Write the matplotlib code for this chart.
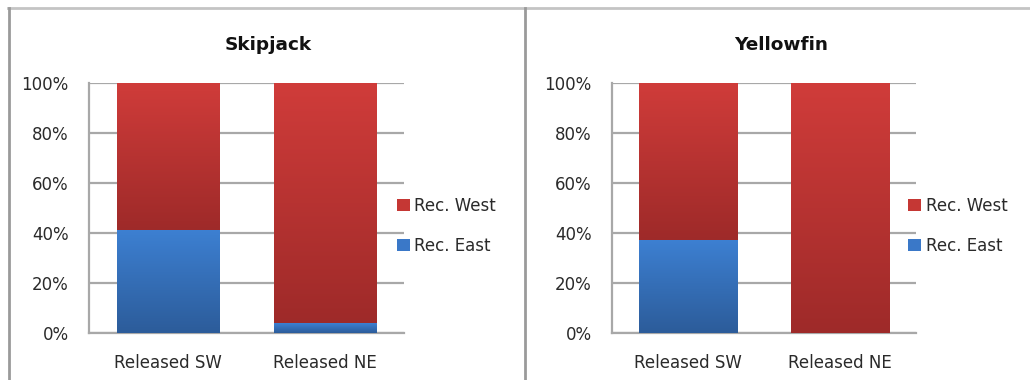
import matplotlib
matplotlib.use("Agg")
import matplotlib.pyplot as plt
import numpy as np
from matplotlib.patches import Patch
from matplotlib.lines import Line2D
from matplotlib.colors import LinearSegmentedColormap

plt.rcParams['font.family'] = ['DejaVu Sans']

categories = ["Released SW", "Released NE"]
species = ["Skipjack", "Yellowfin"]
rec_east = {"Skipjack": [41.2, 3.9], "Yellowfin": [37.2, 0.0]}
rec_west = {"Skipjack": [58.8, 96.1], "Yellowfin": [62.8, 100.0]}
yticks = [0, 20, 40, 60, 80, 100]

W, H = 1030, 380
fig = plt.figure(figsize=(W / 100, H / 100), dpi=100)

red_cmap = LinearSegmentedColormap.from_list("red", ["#9e2a29", "#d03c3a"])
blue_cmap = LinearSegmentedColormap.from_list("blue", ["#2c5c9a", "#3d80d2"])
grad = np.linspace(0, 1, 256).reshape(-1, 1)


def gradient_fill(ax, bars, cmap):
    for p in bars:
        h = p.get_height()
        if h <= 0:
            continue
        x0, y0, w = p.get_x(), p.get_y(), p.get_width()
        im = ax.imshow(grad, cmap=cmap, origin="lower", aspect="auto",
                       extent=[x0, x0 + w, y0, y0 + h], zorder=3,
                       interpolation="bilinear")
        im.set_clip_path(p)
        p.set_facecolor("none")
        p.set_edgecolor("none")


# axes rectangles in pixels: (left, right)
ax_px = [(89, 404), (612, 916)]
legend_x = [397, 908]
title_x = [268, 781]

for i, sp in enumerate(species):
    l, r = ax_px[i]
    ax = fig.add_axes([l / W, (H - 333) / H, (r - l) / W, 250 / H])
    x = np.arange(len(categories))
    east = rec_east[sp]
    west = rec_west[sp]
    b1 = ax.bar(x, east, width=0.65, zorder=3)
    b2 = ax.bar(x, west, bottom=east, width=0.65, zorder=3)
    gradient_fill(ax, b1, blue_cmap)
    gradient_fill(ax, b2, red_cmap)
    ax.set_xlim(-0.5, 1.5)
    ax.set_ylim(0, 100)
    ax.set_yticks(yticks)
    ax.set_yticklabels([f"{t}%" for t in yticks])
    ax.set_xticks(x)
    ax.set_xticklabels(categories)
    ax.grid(axis="y", color="#a8a8a8", linewidth=1.6, zorder=0)
    ax.set_axisbelow(True)
    for s in ["top", "right"]:
        ax.spines[s].set_visible(False)
    for s in ["left", "bottom"]:
        ax.spines[s].set_color("#a8a8a8")
        ax.spines[s].set_linewidth(1.6)
    ax.tick_params(length=0, labelsize=12, colors="#2a2a2a")
    ax.tick_params(axis="y", pad=14.5)
    ax.tick_params(axis="x", pad=15)
    fig.text(title_x[i] / W, (H - 45) / H, sp, ha="center", va="center",
             fontsize=13.3, fontweight="bold", color="#111111")
    handles = [Patch(facecolor="#c53734", edgecolor="none"),
               Patch(facecolor="#3a78c8", edgecolor="none")]
    fig.legend(handles, ["Rec. West", "Rec. East"], loc="center left",
               bbox_to_anchor=(legend_x[i] / W, (H - 226) / H),
               frameon=False, fontsize=12, handlelength=0.75,
               handleheight=0.75, handletextpad=0.3, labelspacing=1.3,
               borderpad=0, borderaxespad=0, labelcolor="#2a2a2a")

# panel frames
fig.add_artist(Line2D([8 / W, 1], [(H - 8) / H] * 2, color="#c4c4c4",
                      linewidth=2, transform=fig.transFigure))
fig.add_artist(Line2D([9 / W] * 2, [0, (H - 8) / H], color="#9a9a9a",
                      linewidth=2, transform=fig.transFigure))
fig.add_artist(Line2D([525 / W] * 2, [0, (H - 8) / H], color="#9a9a9a",
                      linewidth=2, transform=fig.transFigure))

fig.savefig("out.png", dpi=100)
